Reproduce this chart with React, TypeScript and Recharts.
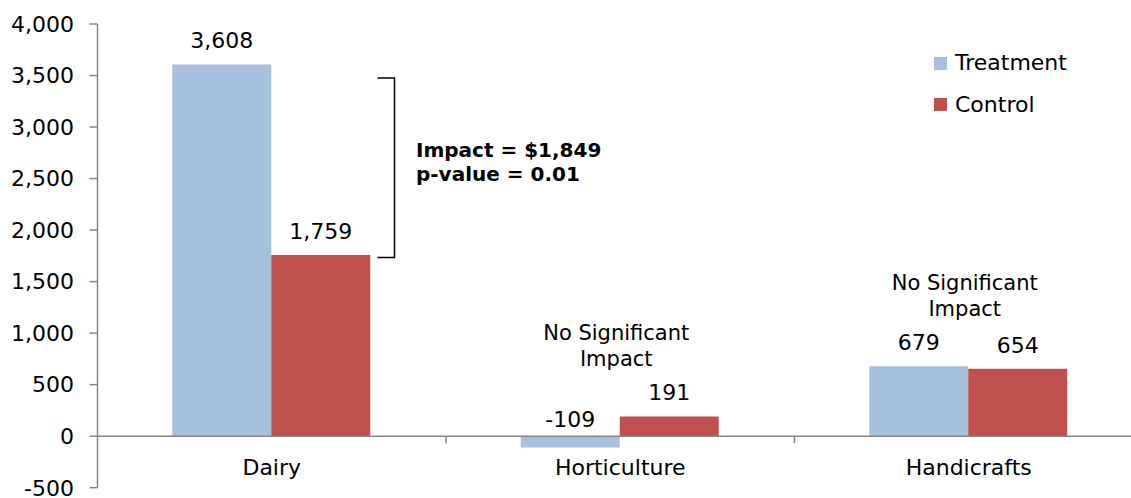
import React from 'react';
import {
  BarChart,
  Bar,
  XAxis,
  YAxis,
  ReferenceLine,
  ReferenceArea,
  ReferenceDot,
  LabelList,
  Legend,
} from 'recharts';

const categories = ['Dairy', 'Horticulture', 'Handicrafts'];
const treatment = [3608, -109, 679];
const control = [1759, 191, 654];
const yTicks = [-500, 0, 500, 1000, 1500, 2000, 2500, 3000, 3500, 4000];
const seriesNames = ['Treatment', 'Control'];
const noImpactCategories = ['Horticulture', 'Handicrafts'];
const noImpactLines = ['No Significant', 'Impact'];
const impactLines = ['Impact = $1,849', 'p-value = 0.01'];

const data = categories.map((category, i) => ({
  category,
  treatment: treatment[i],
  control: control[i],
}));

const FONT = '"DejaVu Sans", Verdana, sans-serif';
const AXIS = '#868686';
const BLUE = '#A7C0DE';
const RED = '#C0504D';
const colors = [BLUE, RED];

const fmt = (v: number) => v.toLocaleString('en-US');

// value labels sit above the top of the bar (or above the zero line for negatives)
const ValueLabel = (props: any) => {
  const box = props.viewBox && props.viewBox.x != null ? props.viewBox : props;
  const { x, y, width, height } = box;
  const value = Number(props.value);
  const top = Math.min(y, y + height);
  const baseline = value < 0 ? top - 9 : top - 16;
  return (
    <text x={x + width / 2} y={baseline} textAnchor="middle" fontSize={22} fontFamily={FONT} fill="#000">
      {fmt(value)}
    </text>
  );
};

const LegendContent = () => (
  <div style={{ fontFamily: FONT, fontSize: 22, color: '#000' }}>
    {seriesNames.map((name, i) => (
      <div key={name} style={{ display: 'flex', alignItems: 'center', height: 41.5 }}>
        <span style={{ display: 'inline-block', width: 12.7, height: 12.7, background: colors[i], marginRight: 8.3 }} />
        <span style={{ lineHeight: '22px' }}>{name}</span>
      </div>
    ))}
  </div>
);

export default function App() {
  return (
    <div style={{ position: 'absolute', left: 0, top: 0, width: 1131, height: 498, overflow: 'hidden', background: '#fff' }}>
      <BarChart
        width={1150}
        height={498}
        data={data}
        margin={{ top: 24, right: 7, bottom: 10.3, left: 0 }}
        barCategoryGap="21.45%"
        barGap={0}
      >
        <XAxis dataKey="category" hide />
        <YAxis
          domain={[-500, 4000]}
          ticks={yTicks}
          width={97.5}
          tickSize={8}
          tickMargin={15.5}
          tickFormatter={fmt}
          axisLine={{ stroke: AXIS, strokeWidth: 1.5 }}
          tickLine={{ stroke: AXIS, strokeWidth: 1.5 }}
          tick={{ fill: '#000', fontSize: 22, fontFamily: FONT }}
          interval={0}
        />
        <Legend
          layout="horizontal"
          verticalAlign="middle"
          align="center"
          content={<LegendContent />}
          wrapperStyle={{ left: 934, top: 42.5, width: 'auto', height: 'auto' }}
        />
        <Bar dataKey="treatment" name="Treatment" fill={BLUE} isAnimationActive={false}>
          <LabelList dataKey="treatment" content={ValueLabel} />
        </Bar>
        <Bar dataKey="control" name="Control" fill={RED} isAnimationActive={false}>
          <LabelList dataKey="control" content={ValueLabel} />
        </Bar>
        <ReferenceLine y={0} stroke={AXIS} strokeWidth={1.5} ifOverflow="visible" />
        {categories.map((c, i) => (
          <ReferenceArea
            key={c}
            x1={c}
            x2={c}
            y1={0}
            y2={yTicks[0]}
            ifOverflow="visible"
            shape={(p: any) => (
              <g>
                <text x={p.x + p.width / 2} y={p.y + 39} textAnchor="middle" fontSize={22} fontFamily={FONT} fill="#000">
                  {c}
                </text>
                {i < categories.length - 1 && (
                  <line x1={p.x + p.width} x2={p.x + p.width} y1={p.y} y2={p.y + 7} stroke={AXIS} strokeWidth={1.5} />
                )}
              </g>
            )}
          />
        ))}
        {noImpactCategories.map((c) => {
          const i = categories.indexOf(c);
          return (
            <ReferenceDot
              key={c}
              x={c}
              y={Math.max(treatment[i], control[i])}
              ifOverflow="visible"
              shape={(p: any) => (
                <g>
                  {noImpactLines.map((line, j) => (
                    <text key={line} x={p.cx - 4} y={p.cy - 76 + j * 26} textAnchor="middle" fontSize={21} fontFamily={FONT} fill="#000">
                      {line}
                    </text>
                  ))}
                </g>
              )}
            />
          );
        })}
        <ReferenceArea
          x1={categories[0]}
          x2={categories[0]}
          y1={control[0]}
          y2={treatment[0]}
          ifOverflow="visible"
          shape={(p: any) => {
            const right = p.x + p.width - 51.5;
            const top = p.y + 13.7;
            const bottom = p.y + p.height + 2.5;
            const mid = (top + bottom) / 2;
            return (
              <g>
                <path d={`M${right - 17},${top} H${right} V${bottom} H${right - 17}`} stroke="#000" strokeWidth={1.5} fill="none" />
                {impactLines.map((line, j) => (
                  <text key={line} x={right + 21.5} y={mid - 11 + j * 24.5} fontSize={20} fontWeight="bold" fontFamily={FONT} fill="#000">
                    {line}
                  </text>
                ))}
              </g>
            );
          }}
        />
      </BarChart>
    </div>
  );
}
